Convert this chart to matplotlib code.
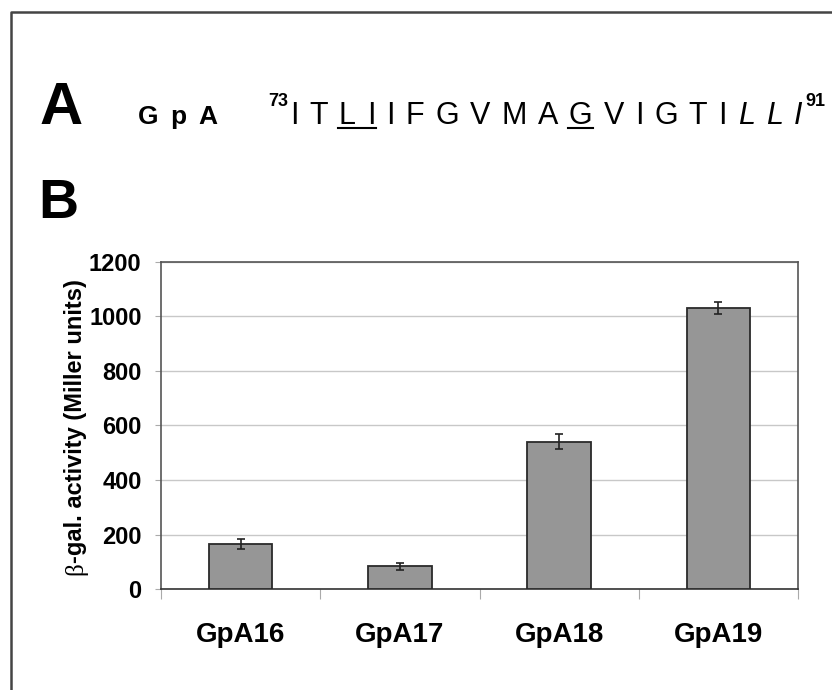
import matplotlib
matplotlib.use('Agg')
import matplotlib.pyplot as plt
from matplotlib.lines import Line2D
import numpy as np

plt.rcParams['font.family'] = ['Liberation Sans', 'DejaVu Sans']

# panel B data: beta-galactosidase activity per construct
constructs = ['GpA16', 'GpA17', 'GpA18', 'GpA19']
activity = [165, 84, 540, 1031]
activity_err = [20, 13, 28, 23]
yticks = [0, 200, 400, 600, 800, 1000, 1200]

# panel A: GpA transmembrane sequence 73-91
residues = list('ITLIIFGVMAGVIGTILLI')
underlined = [2, 3, 10]
italic = [16, 17, 18]
first_res, last_res = '73', '91'

W, H = 832, 690
fig = plt.figure(figsize=(W / 100, H / 100), dpi=100)


def px(x, y):
    return x / W, 1 - y / H


# outer frame (left and top edges only)
fig.add_artist(Line2D([11 / W, 11 / W, 1], [0, 1 - 12 / H, 1 - 12 / H],
                      color='#444444', lw=1.8, transform=fig.transFigure))

# panel letters
fig.text(*px(40, 124), 'A', fontsize=43, fontweight='bold', va='baseline')
fig.text(*px(38, 218), 'B', fontsize=40, fontweight='bold', va='baseline')

r = fig.canvas.get_renderer()

# "G p A" label, letter spaced
x = 138
for ch in 'GpA':
    t = fig.text(*px(x, 124), ch, fontsize=19, fontweight='bold', va='baseline')
    x += t.get_window_extent(r).width + 12

# sequence letters laid out to span a fixed width
texts = [fig.text(0, 0, res, fontsize=22, va='baseline',
                  style='italic' if i in italic else 'normal')
         for i, res in enumerate(residues)]
widths = [t.get_window_extent(r).width for t in texts]
x0, x1 = 290, 802
gap = (x1 - x0 - sum(widths)) / (len(residues) - 1)
starts = []
x = x0
for t, w in zip(texts, widths):
    t.set_position(px(x, 124))
    starts.append(x)
    x += w + gap

# underline runs of consecutive underlined residues
runs = []
for i in underlined:
    if runs and runs[-1][-1] == i - 1:
        runs[-1].append(i)
    else:
        runs.append([i])
for run in runs:
    xa = starts[run[0]] - 1
    xb = starts[run[-1]] + widths[run[-1]] + 1
    fig.add_artist(Line2D([xa / W, xb / W], [1 - 128 / H] * 2, color='black',
                          lw=1.5, transform=fig.transFigure))

fig.text(*px(x0 - 2, 106), first_res, fontsize=13, fontweight='bold',
         ha='right', va='baseline')
fig.text(*px(starts[-1] + widths[-1] + 3, 106), last_res, fontsize=13,
         fontweight='bold', ha='left', va='baseline')

# bar chart
ax = fig.add_axes([161 / W, 1 - 589 / H, (798 - 161) / W, (589 - 262) / H])
xpos = np.arange(len(constructs))
ax.bar(xpos, activity, width=0.4, color='#969696', edgecolor='#2a2a2a',
       linewidth=1.3, zorder=3)
ax.errorbar(xpos, activity, yerr=activity_err, fmt='none', ecolor='#222222',
            elinewidth=1.2, capsize=3, capthick=1.2, zorder=4)

ax.set_ylim(0, 1200)
ax.set_xlim(-0.5, len(constructs) - 0.5)
ax.set_yticks(yticks)
ax.set_yticklabels([str(v) for v in yticks], fontsize=17, fontweight='bold')
ax.yaxis.grid(True, color='#c8c8c8', lw=1, zorder=0)
ax.set_axisbelow(True)
ax.tick_params(axis='y', direction='out', length=4, color='#aaaaaa', pad=10)

ax.set_xticks(np.arange(len(constructs) + 1) - 0.5)
ax.set_xticklabels([''] * (len(constructs) + 1))
ax.tick_params(axis='x', which='major', direction='out', length=7,
               color='#aaaaaa')
ax.set_xticks(xpos, minor=True)
ax.set_xticklabels(constructs, minor=True, fontsize=20, fontweight='bold')
ax.tick_params(axis='x', which='minor', length=0, pad=24)

for s in ax.spines.values():
    s.set_color('#555555')
    s.set_linewidth(1.2)
ax.spines['bottom'].set_color('#333333')

# y label: greek beta plus bold text, rotated
lab_x = 76
beta = fig.text(0, 0, '\u03b2', fontsize=18, rotation=90,
                family='Liberation Serif', ha='center', va='bottom')
rest = fig.text(0, 0, '-gal. activity (Miller units)', fontsize=17,
                fontweight='bold', rotation=90, ha='center', va='bottom')
hb = beta.get_window_extent(r).height
hr = rest.get_window_extent(r).height
ybot = 427 + (hb + hr) / 2
beta.set_position(px(lab_x, ybot))
rest.set_position(px(lab_x, ybot - hb))

fig.savefig('out.png', dpi=100, facecolor='white')
